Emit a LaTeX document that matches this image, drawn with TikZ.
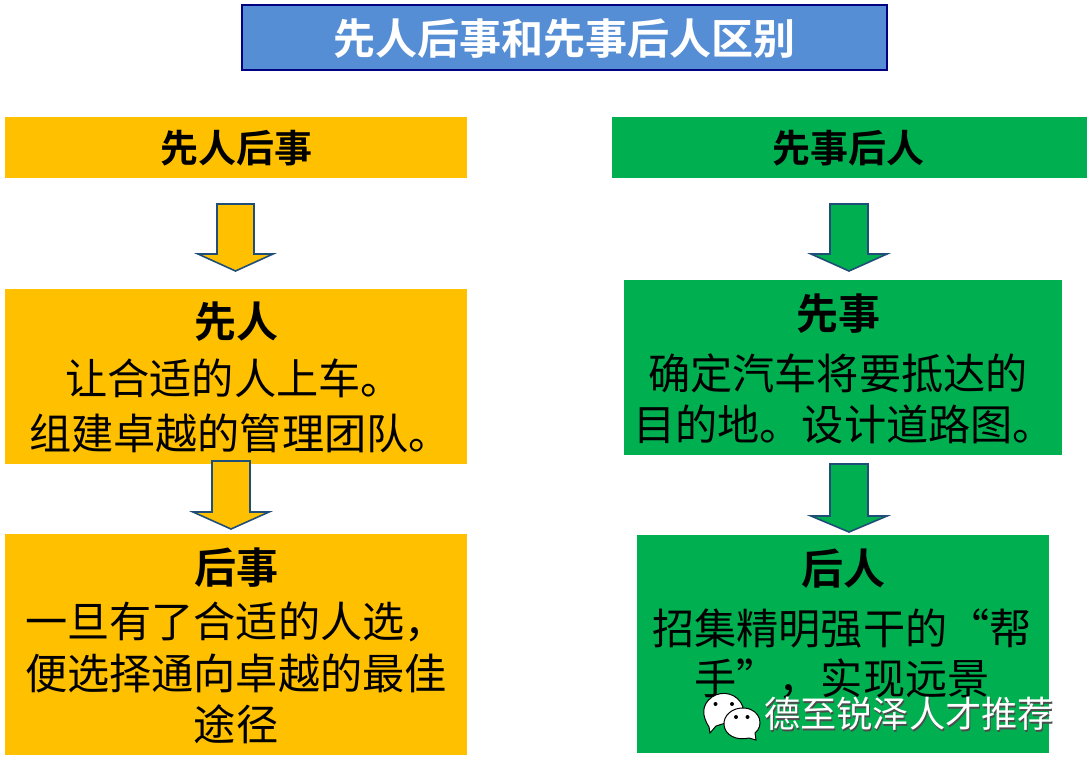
\documentclass[tikz,border=0pt]{standalone}
\usepackage{fontspec}
\setmainfont{Noto Sans CJK SC}
\newfontfamily\boldcjk{Noto Sans CJK SC Bold}
\definecolor{amber}{HTML}{FFC000}
\definecolor{grn}{HTML}{00B050}
\definecolor{titleblue}{HTML}{558ED5}
\definecolor{navy}{HTML}{000080}
\definecolor{arrowline}{HTML}{1F4E79}
\tikzset{
  x=1pt,y=-1pt,
  amberbox/.style={fill=amber,draw=none},
  greenbox/.style={fill=grn,draw=none},
  bodytext/.style={text=black,font=\fontsize{42.2}{42}\selectfont,inner sep=0pt,anchor=center},
  headtext/.style={text=black,font=\boldcjk\fontsize{38}{38}\selectfont,inner sep=0pt,anchor=center},
  blockarrow/.style={draw=arrowline,line width=1.6pt,line join=miter},
  mark text/.style={text=white,font=\fontsize{36.2}{36}\selectfont,inner sep=0pt,anchor=center},
  mark shadow/.style={text=black!70,font=\fontsize{36.2}{36}\selectfont,inner sep=0pt,anchor=center},
  bubble/.style={fill=white,draw=black,line width=1pt},
  eye/.style={fill=black,draw=none}
}
\newcommand{\downblock}[7]{% color, shaft l, shaft r, head l, head r, ytop, yneck ; tip from next
  \def\arrowcol{#1}\def\sl{#2}\def\sr{#3}\def\hl{#4}\def\hr{#5}\def\yt{#6}\def\yn{#7}\finishblock}
\newcommand{\finishblock}[1]{%
  \draw[blockarrow,fill=\arrowcol] (\sl,\yt) -- (\sr,\yt) -- (\sr,\yn) -- (\hr,\yn) -- ({(\hl+\hr)/2},#1) -- (\hl,\yn) -- (\sl,\yn) -- cycle;}
\begin{document}
\begin{tikzpicture}
\useasboundingbox (0,0) rectangle (1087,772);
\fill[white] (0,0) rectangle (1087,772);
% title
\draw[fill=titleblue,draw=navy,line width=1.8pt] (242,5) rectangle (887,70);
\node[text=white,font=\boldcjk\fontsize{46}{46}\selectfont,inner sep=0pt,scale=0.915] (title) at (564.5,39) {先人后事和先事后人区别};
% left column
\fill[amberbox] (5,117) rectangle (467,178);
\node[headtext] (lh) at (236,148) {先人后事};
\fill[amberbox] (5,289) rectangle (467,464);
\node[headtext,font=\boldcjk\fontsize{42}{42}\selectfont] (lm0) at (236,322) {先人};
\node[bodytext] (lm1) at (234,378) {让合适的人上车。};
\node[bodytext] (lm2) at (240,433) {组建卓越的管理团队。};
\fill[amberbox] (5,534) rectangle (467,755);
\node[headtext,font=\boldcjk\fontsize{42}{42}\selectfont] (ll0) at (236,568) {后事};
\node[bodytext] (ll1) at (236,622) {一旦有了合适的人选，};
\node[bodytext] (ll2) at (236,673) {便选择通向卓越的最佳};
\node[bodytext] (ll3) at (236,724) {途径};
\downblock{amber}{217}{254}{198}{273}{204}{254}{271}
\downblock{amber}{212}{250}{193}{269}{461}{512}{529}
% right column
\fill[greenbox] (612,117) rectangle (1087,178);
\node[headtext] (rh) at (848,148) {先事后人};
\fill[greenbox] (624,280) rectangle (1062,455);
\node[headtext,font=\boldcjk\fontsize{42}{42}\selectfont] (rm0) at (838,314) {先事};
\node[bodytext] (rm1) at (838,373) {确定汽车将要抵达的};
\node[bodytext] (rm2) at (844,424) {目的地。设计道路图。};
\fill[greenbox] (637,535) rectangle (1049,753);
\node[headtext,font=\boldcjk\fontsize{42}{42}\selectfont] (rl0) at (843,569) {后人};
\node[bodytext] (rl1) at (842,628) {招集精明强干的“帮};
\node[bodytext] (rl2) at (842,679) {手”，实现远景};
\downblock{grn}{830}{868}{811}{887}{204}{254}{271}
\downblock{grn}{830}{868}{811}{887}{464}{516}{532}
% watermark
\draw[bubble] (709,727) .. controls (702,716) and (701,705) .. (712,697) .. controls (722,690) and (738,693) .. (743,707) -- (735,720) -- (716,726) -- (710,733) -- cycle;
\fill[eye] (715.5,704) circle (2);
\fill[eye] (732,704) circle (2);
\draw[bubble] (755,733) .. controls (764,726) and (761,710) .. (745,708) .. controls (732,707) and (723,716) .. (724,725) .. controls (725,735) and (736,741) .. (749,738) -- (756,740) -- cycle;
\fill[eye] (736,717) circle (2);
\fill[eye] (747.5,717) circle (2);
\node[mark shadow] (wms) at (910,715.5) {德至锐泽人才推荐};
\node[mark text] (wm) at (909,714) {德至锐泽人才推荐};
\end{tikzpicture}
\end{document}
